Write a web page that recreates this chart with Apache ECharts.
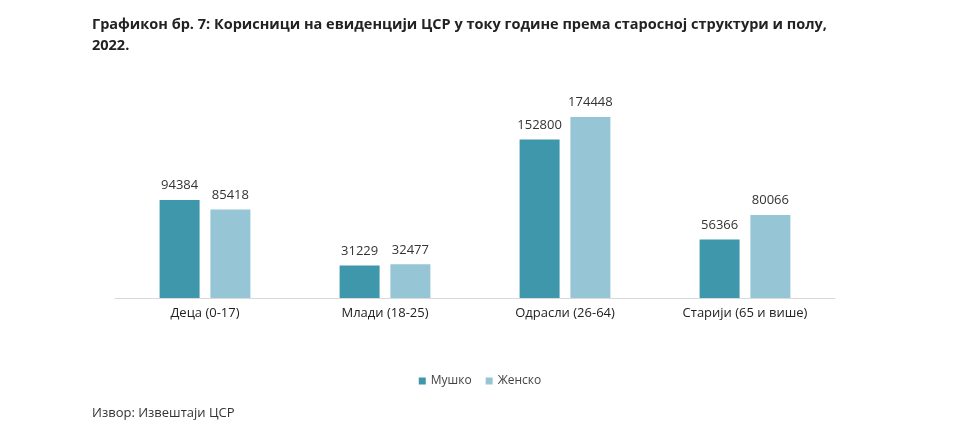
<!DOCTYPE html>
<html><head><meta charset="utf-8">
<script src="https://cdn.jsdelivr.net/npm/echarts@6/dist/echarts.min.js"></script>
<style>html,body{margin:0;padding:0;background:#fff}#c{width:960px;height:431px}</style>
</head><body><div id="c"></div>
<script>
const categories = ['Деца (0-17)', 'Млади (18-25)', 'Одрасли (26-64)', 'Старији (65 и више)'];
const male = [94384, 31229, 152800, 56366];
const female = [85418, 32477, 174448, 80066];
const seriesNames = ['Мушко', 'Женско'];
const titleText = 'Графикон бр. 7: Корисници на евиденцији ЦСР у току године према старосној структури и полу,\n2022.';
const sourceText = 'Извор: Извештаји ЦСР';

const chart = echarts.init(document.getElementById('c'));
const lbl = {show: true, position: 'top', distance: 8, color: '#333', fontSize: 13, fontFamily: 'Open Sans'};
chart.setOption({
  animation: false,
  backgroundColor: '#fff',
  title: [{
    text: titleText, left: 87, top: 9,
    textStyle: {fontSize: 14.5, fontWeight: 'bold', color: '#222', fontFamily: 'Open Sans', lineHeight: 21}
  }, {
    text: sourceText, left: 87, top: 402,
    textStyle: {fontSize: 13, fontWeight: 'normal', color: '#333', fontFamily: 'Open Sans'}
  }],
  legend: {
    data: seriesNames, top: 370, left: 'center', itemWidth: 7, itemHeight: 7, itemGap: 14,
    icon: 'rect', textStyle: {fontSize: 12, color: '#444', fontFamily: 'Open Sans'}
  },
  grid: {left: 115, width: 720, top: 90.5, height: 207.5},
  xAxis: {
    type: 'category', data: categories,
    axisLine: {lineStyle: {color: '#d9d9d9', width: 1}}, axisTick: {show: false},
    axisLabel: {color: '#222', fontSize: 13, margin: 9, fontFamily: 'Open Sans'}
  },
  yAxis: {type: 'value', min: 0, max: 200000, show: false, splitLine: {show: false}},
  series: [
    {name: seriesNames[0], type: 'bar', data: male, barWidth: 40, barGap: '27%', itemStyle: {color: '#3f97ab'}, label: lbl},
    {name: seriesNames[1], type: 'bar', data: female, barWidth: 40, itemStyle: {color: '#96c5d5'}, label: lbl}
  ]
});
</script></body></html>
